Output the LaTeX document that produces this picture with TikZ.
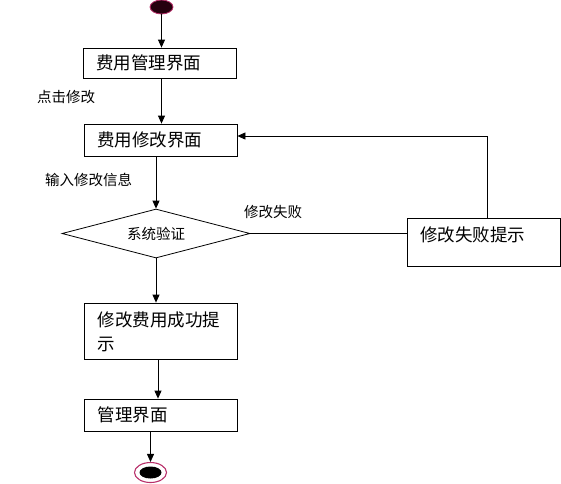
\documentclass[tikz,border=0pt]{standalone}
\usepackage{fontspec}
\setmainfont{Noto Sans CJK SC}
\usetikzlibrary{arrows.meta,positioning,shapes.geometric}
\definecolor{ringred}{HTML}{B8306A}
\definecolor{startfill}{HTML}{26000E}
\newcommand{\flowbox}[4]{
  \node[box,minimum height=#3] (#1) at #2 {#4};
}

\begin{document}
\begin{tikzpicture}[x=1pt,y=-1pt,
    box/.style={draw,line width=0.8pt,text width=127pt,inner xsep=13pt,align=left,
      font=\fontsize{17.5}{24}\selectfont},
    lbl/.style={anchor=west,inner sep=0pt,font=\fontsize{14.5}{17}\selectfont},
    flow/.style={-{Triangle[length=8pt,width=7pt]},line width=0.8pt},
    line/.style={line width=0.8pt}]
  \useasboundingbox (0,0) rectangle (561,483);
  % start and end marks
  \node[ellipse,draw=ringred,fill=startfill,line width=0.8pt,minimum width=23pt,minimum height=14pt,inner sep=0pt] (start) at (161.5,7) {};
  \node[ellipse,draw=ringred,line width=1.1pt,minimum width=32pt,minimum height=20pt,inner sep=0pt,
    path picture={\fill (path picture bounding box.center) ellipse (11pt and 6pt);}] (stop) at (150.5,472.5) {};
  % boxes
  \flowbox{b1}{(159.5,63)}{30pt}{费用管理界面}
  \flowbox{b2}{(160.5,140)}{32pt}{费用修改界面}
  \node[box,inner ysep=3pt,text height=20pt,text depth=22pt] (b3) at (483.5,242) {修改失败提示};
  \node[box,inner ysep=3pt,text height=20pt,text depth=30pt] (b4) at (161,331) {修改费用成功提\\示};
  \flowbox{b5}{(161,415)}{32pt}{管理界面}
  \node[diamond,draw,line width=0.8pt,aspect=3.8,minimum width=188pt,minimum height=49pt,inner sep=0pt,
    font=\fontsize{14.5}{17}\selectfont] (chk) at (156,233.5) {\raisebox{-2pt}{系统验证}};
  % labels
  \node[lbl] (l1) at (37,97) {点击修改};
  \node[lbl] (l2) at (45,180) {输入修改信息};
  \node[lbl] (l3) at (244,212) {修改失败};
  % connectors
  \draw[flow] (start) -- (start |- b1.north);
  \draw[flow] (b1.south -| start) -- (b2.north -| start);
  \draw[flow] (b2.south -| chk.north) -- (chk.north);
  \draw[line] (chk.east) -- (chk.east -| b3.west);
  \draw[flow] ([xshift=3.5pt]b3.north) |- ([yshift=4pt]b2.east);
  \draw[flow] (chk.south) -- (chk.south |- b4.north);
  \draw[flow] ([xshift=-3pt]b4.south) -- ([xshift=-3pt]b5.north);
  \draw[flow] (b5.south -| stop) -- (stop.north);
\end{tikzpicture}
\end{document}
